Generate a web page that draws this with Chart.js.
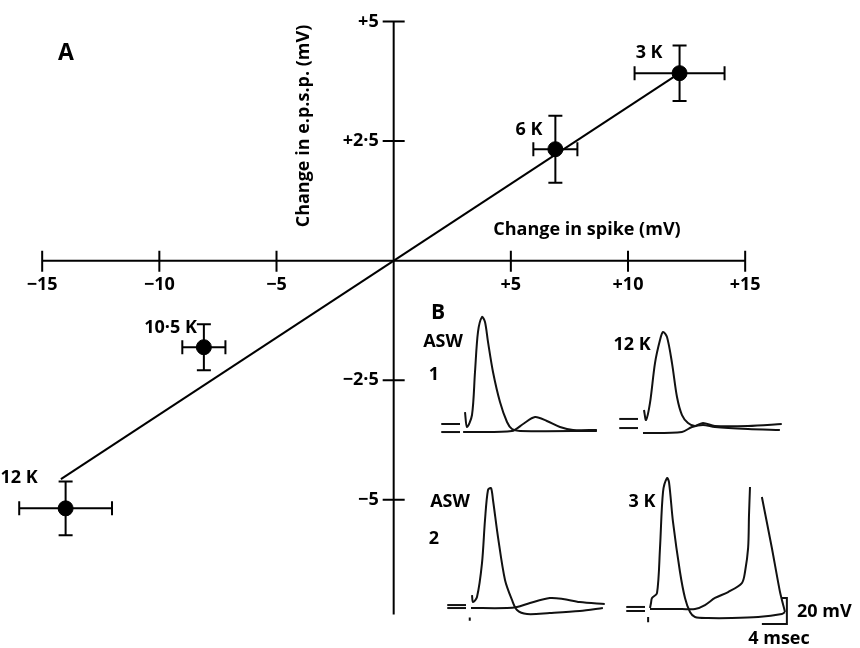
<!DOCTYPE html>
<html>
<head>
<meta charset="utf-8">
<script src="https://cdn.jsdelivr.net/npm/chart.js@4"></script>
<style>
  html, body { margin: 0; padding: 0; background: #fff; }
  canvas { display: block; }
</style>
</head>
<body>
<canvas id="fig" width="860" height="648"></canvas>
<script>
"use strict";

// Panel A: change in e.p.s.p. plotted against change in spike height (mV)
const conditions = ["3 K", "6 K", "10·5 K", "12 K"];
const spikeChange = [12.2, 6.9, -8.1, -14.0];
const spikeErr = [1.92, 0.94, 0.92, 1.98];
const epspChange = [3.92, 2.33, -1.81, -5.18];
const epspErr = [0.58, 0.7, 0.48, 0.56];

// regression line, drawn end to end
const fitX = [-14.2, 12.2];
const fitY = [-4.57, 3.92];

const xTicks = [-15, -10, -5, 5, 10, 15];
const xTickLabels = ["−15", "−10", "−5", "+5", "+10", "+15"];
const yTicks = [5, 2.5, -2.5, -5];
const yTickLabels = ["+5", "+2·5", "−2·5", "−5"];

// Panel B: records, time in msec from the stimulus, voltage in mV from rest
const asw1SpikeT = [0, 0.32, 1.12, 1.6, 2.08, 2.72, 3.2, 3.68, 4.48, 5.6, 6.72, 7.52, 8.8, 21.1];
const asw1SpikeV = [14.6, 3.1, 12.3, 45.4, 76.2, 87.7, 83.8, 68.5, 45.4, 22.3, 6.9, 1.5, 0, 0];
const asw1EpspT = [-0.3, 7.5, 9.3, 11.2, 13.1, 15.2, 17.3, 21.1];
const asw1EpspV = [-0.8, 0, 5.4, 10.8, 7.7, 3.1, 0.8, 0.8];

const k12SpikeT = [0.16, 0.48, 1.12, 1.92, 2.72, 3.2, 3.84, 4.64, 5.44, 6.24, 7.2, 8.32, 9.6, 11.5, 16.8, 22.2];
const k12SpikeV = [15.4, 7.7, 20.8, 51.5, 69.2, 75.4, 71.5, 51.5, 25.4, 11.5, 5.4, 3.1, 5.4, 3.1, 3.1, 4.6];
const k12EpspT = [0, 6.24, 7.84, 9.6, 11.5, 16.8, 21.9];
const k12EpspV = [-2.3, -1.5, 2.3, 3.8, 2.3, 0.8, 0];

const asw2SpikeT = [0.16, 0.32, 0.96, 1.76, 2.24, 2.72, 3.2, 3.52, 4.32, 5.44, 6.56, 7.36, 8.96, 12.6, 17.4, 21.1];
const asw2SpikeV = [9.2, 3.8, 7.7, 33.8, 66.9, 90, 91.5, 82.3, 53.8, 20.8, 5.4, -2.3, -5.4, -4.6, -3.1, -0.8];
const asw2EpspT = [0, 5.76, 7.36, 9.44, 12.6, 14.7, 17.4, 21.4];
const asw2EpspV = [-0.8, -0.8, 0, 3.1, 6.9, 6.2, 3.8, 2.3];

const k3SpikeT = [0, 0.16, 0.32, 1.12, 1.6, 2.08, 2.72, 3.04, 3.68, 4.8, 5.6, 6.4, 7.2, 9.28, 13.1, 17.3, 21.1, 21.6];
const k3SpikeV = [0, 3.8, 7.7, 11.5, 46.2, 89.2, 100, 96.9, 66.2, 27.7, 7.7, -3.1, -6.9, -7.7, -7.7, -6.9, -4.6, -3.1];
const k3RiseT = [0, 2.4, 5.12, 7.2, 8.8, 10.4, 12.5, 14.7, 15.2, 15.7, 15.84, 16.0];
const k3RiseV = [-0.8, -0.8, -0.8, -0.8, 2.3, 7.7, 12.3, 19.2, 27.7, 46.2, 71.5, 93.1];
const k3FallT = [17.9, 19.5, 20.8, 21.6];
const k3FallV = [85.4, 46.2, 12.3, -3.1];

// baseline marks "=" at the left of each record (two levels each)
const markT = [-3.8, -0.8];
const asw1MarkV = [5.4, -0.8];
const k12MarkV = [8.5, 1.5];
const asw2MarkV = [1.5, -0.8];
const k3MarkV = [0.8, -2.3];

// calibration: 20 mV, 4 msec
const calT = [21.1, 21.9, 21.9, 17.9];
const calV = [7.7, 7.7, -12.3, -12.3];

const W = 860, H = 648;
const msPx = 6.25, mvPx = 1.3;
// pixel position of each record's stimulus / resting level
const panelOrigin = {
  p1: [465, 431],
  p2: [643, 430],
  p3: [471, 607],
  p4: [650, 608]
};

const FONT = "'Open Sans', 'DejaVu Sans', sans-serif";

function pts(xs, ys) {
  return xs.map((x, i) => ({ x: x, y: ys[i] }));
}

const scales = {
  x: { type: "linear", min: -16.8, max: 19.9, display: false },
  y: { type: "linear", min: -8.1, max: 5.45, display: false }
};
Object.keys(panelOrigin).forEach(p => {
  const [ox, oy] = panelOrigin[p];
  scales["t" + p] = { type: "linear", display: false, min: -ox / msPx, max: (W - ox) / msPx };
  scales["v" + p] = { type: "linear", display: false, min: -(H - oy) / mvPx, max: oy / mvPx };
});

function trace(p, xs, ys, tension) {
  return {
    data: pts(xs, ys),
    xAxisID: "t" + p,
    yAxisID: "v" + p,
    showLine: true,
    borderColor: "#111",
    borderWidth: 2,
    pointRadius: 0,
    tension: tension === undefined ? 0.3 : tension,
    order: 3
  };
}

function marks(p, levels) {
  return levels.map(v => trace(p, markT, [v, v], 0));
}

const datasets = [
  {
    data: pts(spikeChange, epspChange),
    backgroundColor: "#000",
    borderColor: "#000",
    pointRadius: 7.5,
    order: 1
  },
  {
    data: pts(fitX, fitY),
    showLine: true,
    borderColor: "#000",
    borderWidth: 2,
    pointRadius: 0,
    order: 2
  },
  trace("p1", asw1SpikeT, asw1SpikeV),
  trace("p1", asw1EpspT, asw1EpspV),
  ...marks("p1", asw1MarkV),
  trace("p2", k12SpikeT, k12SpikeV),
  trace("p2", k12EpspT, k12EpspV),
  ...marks("p2", k12MarkV),
  trace("p3", asw2SpikeT, asw2SpikeV),
  trace("p3", asw2EpspT, asw2EpspV),
  ...marks("p3", asw2MarkV),
  trace("p3", [-0.2, -0.2], [-8, -10.5], 0),
  trace("p4", k3SpikeT, k3SpikeV),
  trace("p4", k3RiseT, k3RiseV),
  trace("p4", k3FallT, k3FallV, 0.2),
  ...marks("p4", k3MarkV),
  trace("p4", [-0.3, -0.3], [-7, -11], 0),
  trace("p4", calT, calV, 0)
];

// axes through the origin, error bars and lettering
const figurePlugin = {
  id: "figure",
  beforeDatasetsDraw(chart) {
    const c = chart.ctx, sx = chart.scales.x, sy = chart.scales.y;
    const X = v => sx.getPixelForValue(v), Y = v => sy.getPixelForValue(v);
    c.save();
    c.strokeStyle = "#000";
    c.lineWidth = 2;
    c.lineCap = "butt";

    // x axis
    c.beginPath();
    c.moveTo(X(-15), Y(0));
    c.lineTo(X(15), Y(0));
    xTicks.forEach(t => { c.moveTo(X(t), Y(0) - 10); c.lineTo(X(t), Y(0) + 11); });
    // y axis
    c.moveTo(X(0), Y(5));
    c.lineTo(X(0), Y(-7.4));
    yTicks.forEach(t => { c.moveTo(X(0) - 11, Y(t)); c.lineTo(X(0) + 11, Y(t)); });
    c.stroke();

    // error bars
    c.beginPath();
    spikeChange.forEach((x, i) => {
      const y = epspChange[i];
      const x0 = X(x - spikeErr[i]), x1 = X(x + spikeErr[i]);
      const y0 = Y(y + epspErr[i]), y1 = Y(y - epspErr[i]);
      c.moveTo(x0, Y(y)); c.lineTo(x1, Y(y));
      c.moveTo(x0, Y(y) - 7); c.lineTo(x0, Y(y) + 7);
      c.moveTo(x1, Y(y) - 7); c.lineTo(x1, Y(y) + 7);
      c.moveTo(X(x), y0); c.lineTo(X(x), y1);
      c.moveTo(X(x) - 7, y0); c.lineTo(X(x) + 7, y0);
      c.moveTo(X(x) - 7, y1); c.lineTo(X(x) + 7, y1);
    });
    c.stroke();

    c.fillStyle = "#000";
    c.font = "bold 18px " + FONT;
    c.textBaseline = "middle";
    c.textAlign = "center";
    xTicks.forEach((t, i) => c.fillText(xTickLabels[i], X(t), Y(0) + 24));
    c.textAlign = "right";
    yTicks.forEach((t, i) => c.fillText(yTickLabels[i], X(0) - 15, Y(t)));

    // axis titles
    c.font = "bold 18px " + FONT;
    c.textAlign = "center";
    c.fillText("Change in spike (mV)", 587, 230);
    c.save();
    c.translate(304, 126);
    c.rotate(-Math.PI / 2);
    c.fillText("Change in e.p.s.p. (mV)", 0, 0);
    c.restore();

    // condition labels, right edge set off from each point
    const labelOffset = [[-17, -20], [-13, -19], [-7, -19], [-28, -30]];
    c.font = "bold 18px " + FONT;
    c.textAlign = "right";
    conditions.forEach((name, i) => {
      c.fillText(name, X(spikeChange[i]) + labelOffset[i][0], Y(epspChange[i]) + labelOffset[i][1]);
    });

    // panel lettering
    c.textAlign = "center";
    c.font = "bold 23px " + FONT;
    c.fillText("A", 66, 53);
    c.font = "bold 21px " + FONT;
    c.fillText("B", 438, 313);
    c.font = "bold 18px " + FONT;
    c.fillText("ASW", 443, 342);
    c.fillText("1", 434, 375);
    c.fillText("12 K", 632, 345);
    c.fillText("ASW", 450, 502);
    c.fillText("2", 434, 539);
    c.fillText("3 K", 642, 502);
    c.textAlign = "left";
    c.fillText("20 mV", 797, 612);
    c.textAlign = "center";
    c.fillText("4 msec", 779, 639);
    c.restore();
  }
};

new Chart(document.getElementById("fig").getContext("2d"), {
  type: "scatter",
  data: { datasets: datasets },
  options: {
    responsive: false,
    animation: false,
    devicePixelRatio: 1,
    layout: { padding: 0, autoPadding: false },
    scales: scales,
    plugins: {
      legend: { display: false },
      tooltip: { enabled: false }
    }
  },
  plugins: [figurePlugin]
});
</script>
</body>
</html>
